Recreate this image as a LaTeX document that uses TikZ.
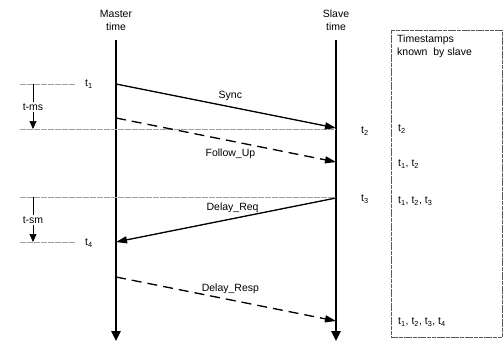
\documentclass[tikz,border=0pt]{standalone}
\usepackage{fontspec}
\setmainfont{Liberation Sans}
\usetikzlibrary{arrows.meta,positioning}

\begin{document}
\begin{tikzpicture}[x=1pt, y=-1pt,
    timeline/.style={line width=2.4pt, -{Triangle[length=10pt,width=9pt]}},
    msg/.style={line width=1.3pt, -{Triangle[length=11pt,width=7pt]}},
    msgdash/.style={msg, dash pattern=on 10pt off 6pt},
    guide/.style={gray!75, line width=0.6pt, dash pattern=on 6pt off 1pt},
    lbl/.style={font=\fontsize{10.5}{13}\selectfont, inner sep=1pt},
    tick/.style={line width=0.7pt, -{Triangle[length=8pt,width=7pt]}}]
    \useasboundingbox (0,0) rectangle (504,343);

    % Time axes
    \node[lbl, align=center] (mastertxt) at (116,20) {Master\\time};
    \node[lbl, align=center] (slavetxt) at (336,20) {Slave\\time};
    \coordinate (mtop) at (116,40);
    \coordinate (mbot) at (116,341);
    \coordinate (stop) at (336,40);
    \coordinate (sbot) at (336,341);
    \draw[timeline] (mtop) -- (mbot);
    \draw[timeline] (stop) -- (sbot);

    % Event points
    \coordinate (m1) at (116,84);
    \coordinate (s2) at (336,128);
    \coordinate (mf) at (116,118);
    \coordinate (sf) at (336,162);
    \coordinate (s3) at (336,198);
    \coordinate (m4) at (116,242);
    \coordinate (mr) at (116,277);
    \coordinate (sr) at (336,321);

    % Guide lines
    \coordinate (g1) at (20,84);   \coordinate (g1e) at (75,84);
    \coordinate (g2) at (20,129);
    \coordinate (g3) at (20,197);
    \coordinate (g4) at (20,242);  \coordinate (g4e) at (75,242);
    \draw[guide] (g1) -- (g1e);
    \draw[guide] (g2) -- (g2 -| stop);
    \draw[guide] (g3) -- (g3 -| stop);
    \draw[guide] (g4) -- (g4e);

    % Messages
    \draw[msg] (m1) -- (s2) node[lbl, pos=0.52, above=5pt] (sync) {Sync};
    \draw[msgdash] (mf) -- (sf) node[lbl, pos=0.52, below=6pt] (fup) {Follow\_Up};
    \draw[msg] (s3) -- (m4) node[lbl, pos=0.47, above=4pt] (dreq) {Delay\_Req};
    \draw[msgdash] (mr) -- (sr) node[lbl, pos=0.52, above=5pt] (dresp) {Delay\_Resp};

    % Timestamp labels
    \node[lbl, anchor=west] (t1) at (84,84) {t\textsubscript{1}};
    \node[lbl, anchor=west] (t2) at (360,131) {t\textsubscript{2}};
    \node[lbl, anchor=west] (t3) at (360,199) {t\textsubscript{3}};
    \node[lbl, anchor=west] (t4) at (84,243) {t\textsubscript{4}};

    % t-ms and t-sm
    \node[lbl] (tms) at (33,107) {t-ms};
    \draw[line width=0.7pt] (33,84) -- (tms.north);
    \draw[tick] (tms.south) -- (33,129);
    \node[lbl] (tsm) at (33,220) {t-sm};
    \draw[line width=0.7pt] (33,197) -- (tsm.north);
    \draw[tick] (tsm.south) -- (33,242);

    % Slave knowledge box
    \draw[gray!70!black, line width=0.7pt, dash pattern=on 4pt off 0.7pt] (391,30) rectangle (502,337);
    \node[lbl, anchor=north west, align=left] (known) at (396,34) {Timestamps\\known\ \ by slave};
    \node[lbl, anchor=west] (k1) at (397,129) {t\textsubscript{2}};
    \node[lbl, anchor=west] (k2) at (397,164) {t\textsubscript{1}, t\textsubscript{2}};
    \node[lbl, anchor=west] (k3) at (397,201) {t\textsubscript{1}, t\textsubscript{2}, t\textsubscript{3}};
    \node[lbl, anchor=west] (k4) at (397,322) {t\textsubscript{1}, t\textsubscript{2}, t\textsubscript{3}, t\textsubscript{4}};
\end{tikzpicture}
\end{document}
